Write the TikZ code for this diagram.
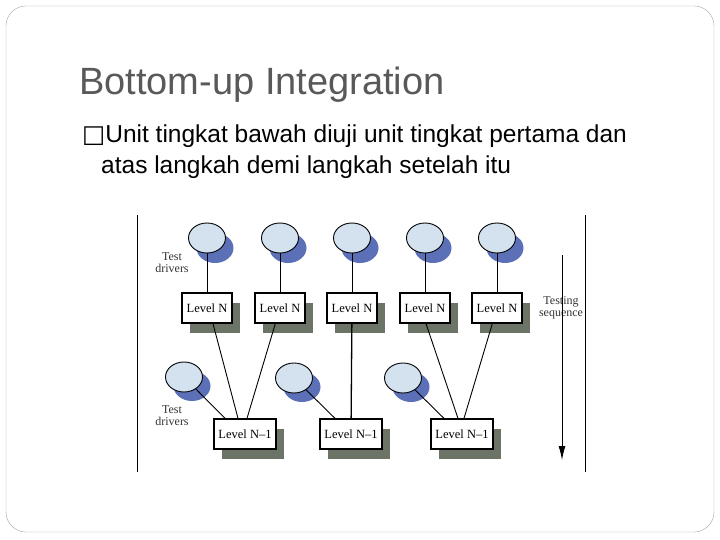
\documentclass[tikz,border=0pt]{standalone}
\usepackage{fontspec}
\usetikzlibrary{shapes.geometric,calc,arrows.meta}
\setmainfont{Liberation Serif}
\newfontfamily\sansf{Liberation Sans}
\newfontfamily\dejaf{DejaVu Sans}
\definecolor{ovfill}{HTML}{D3E2EE}
\definecolor{ovsh}{HTML}{5C70B8}
\definecolor{bxsh}{HTML}{6B7466}
\begin{document}
\begin{tikzpicture}[x=1pt,y=-1pt,
  drv/.style={ellipse,draw,line width=0.9pt,fill=ovfill,minimum width=37,minimum height=30,inner sep=0},
  drvsh/.style={ellipse,fill=ovsh,minimum width=37,minimum height=30,inner sep=0},
  lvl/.style={draw,line width=1.3pt,fill=white,minimum height=30,inner sep=1,font=\fontsize{12.5}{13}\selectfont},
  lvlsh/.style={fill=bxsh,minimum height=30,inner sep=2},
  lab/.style={font=\fontsize{12}{12}\selectfont,align=center,text=black!80},
  wire/.style={line width=0.9pt}]
\useasboundingbox (0,0) rectangle (720,540);
\draw[gray!70,rounded corners=20] (6,6) rectangle (714,532);
\node[anchor=base west,font=\sansf\fontsize{38}{40}\selectfont,text=black!65,inner sep=0] (title) at (79,95) {Bottom-up Integration};
\node[anchor=base west,font=\sansf\fontsize{24.5}{28}\selectfont,inner sep=0] (b1) at (82,143) {{\dejaf □}Unit tingkat bawah diuji unit tingkat pertama dan};
\node[anchor=base west,font=\sansf\fontsize{24.5}{28}\selectfont,inner sep=0] (b2) at (101,174) {atas langkah demi langkah setelah itu};
\draw (137,215) -- (137,472);
\draw (585,215) -- (585,472);
% shadows
\foreach \x in {207,280,352,425,497} \node[drvsh] at (\x+8,248) {};
\foreach \x/\y in {184/377,294/378,403/378} \node[drvsh] at (\x+8,\y+9) {};
\foreach \x in {207,280,352,425,497} \node[lvlsh,minimum width=50] at (\x+8,318) {};
\foreach \x in {245,351,462} \node[lvlsh,minimum width=62] at (\x+8,444) {};
% nodes
\foreach \i/\x in {1/207,2/280,3/352,4/425,5/497}{
  \node[drv] (t\i) at (\x,238) {};
  \node[lvl,minimum width=50] (n\i) at (\x,308) {Level N};
}
\node[drv] (u1) at (184,377) {};
\node[drv] (u2) at (294,378) {};
\node[drv] (u3) at (403,378) {};
\node[lvl,minimum width=62] (m1) at (245,434) {Level N--1};
\node[lvl,minimum width=62] (m2) at (351,434) {Level N--1};
\node[lvl,minimum width=62] (m3) at (462,434) {Level N--1};
\foreach \i in {1,...,5} \draw[wire] (t\i) -- (n\i);
\draw[wire] ($(n1.south)+(6,0)$) -- ($(m1.north)+(-7,0)$);
\draw[wire] (n2) -- ($(m1.north)+(2,0)$);
\draw[line width=1.3pt] (n3) -- (m2);
\draw[wire] ($(n4.south)+(1,0)$) -- ($(m3.north)+(-4,0)$);
\draw[wire] (n5) -- ($(m3.north)+(2,0)$);
\draw[wire] (u1) -- ($(m1.north)+(-20,0)$);
\draw[wire] (u2) -- ($(m2.north)+(-16,0)$);
\draw[wire] (u3) -- ($(m3.north)+(-18,0)$);
\node[lab] (td1) at (172,263) {Test\\drivers};
\node[lab] (td2) at (172,416) {Test\\drivers};
\node[lab] (ts) at (561,308) {Testing\\sequence};
\coordinate (s0) at (562,255);
\coordinate (s1) at (562,460);
\draw[line width=0.9pt,-{Latex[length=14pt,width=7pt]}] (s0) -- (s1);
\end{tikzpicture}
\end{document}
